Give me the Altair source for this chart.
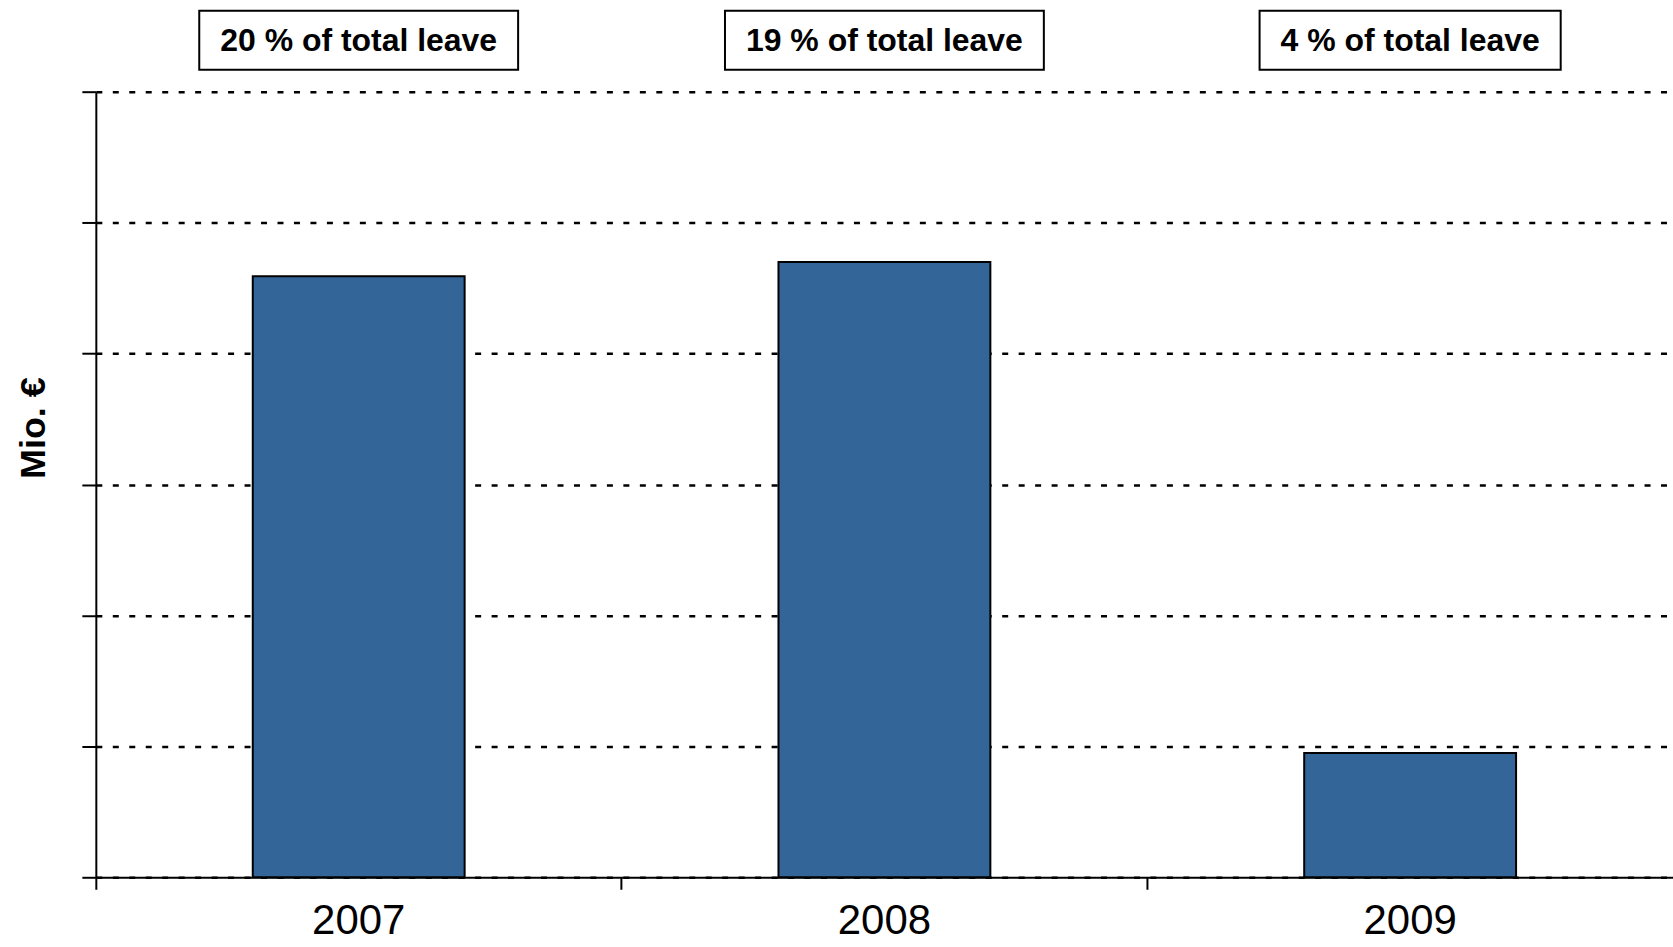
import altair as alt
import pandas as pd

years = ["2007", "2008", "2009"]
values = [4.59, 4.70, 0.95]          # Mio. € (axis carries no tick labels)
notes = ["20 % of total leave", "19 % of total leave", "4 % of total leave"]
grid_steps = [0, 1, 2, 3, 4, 5, 6]

# approximate advance widths of Liberation Sans Bold (em units) for box sizing
_adv = {"0": .556, "1": .556, "2": .556, "3": .556, "4": .556, "5": .556,
        "6": .556, "7": .556, "8": .556, "9": .556, " ": .278, "%": .889,
        "o": .611, "f": .333, "t": .333, "a": .556, "l": .278, "e": .556, "v": .556}
NOTE_FS = 32


def box_width(s):
    return sum(_adv.get(c, .556) for c in s) * NOTE_FS + 42


df = pd.DataFrame({"year": years, "value": values, "note": notes})
df["boxw"] = [box_width(s) for s in notes]

W, H = 1580, 787

x_enc = alt.X(
    "year:N",
    sort=years,
    scale=alt.Scale(paddingInner=0, paddingOuter=0),
    axis=alt.Axis(
        title=None,
        bandPosition=0,
        labelFontSize=42,
        labelFont="Liberation Sans",
        labelColor="black",
        labelBaseline="alphabetic",
        labelPadding=44,
        labelAngle=0,
        tickSize=12,
        tickColor="black",
        tickWidth=2,
        domainColor="black",
        domainWidth=2,
        grid=False,
    ),
)

bars = alt.Chart(df).mark_bar(
    width=alt.RelativeBandSize(0.403),
    color="#346599",
    stroke="black",
    strokeWidth=2,
).encode(
    x=x_enc,
    y=alt.Y(
        "value:Q",
        scale=alt.Scale(domain=[0, 6], nice=False, zero=True),
        axis=alt.Axis(
            values=grid_steps,
            labels=False,
            title="Mio. €",
            titleFont="Liberation Sans",
            titleFontSize=36,
            titleFontWeight="bold",
            titleColor="black",
            titleX=-51,
            titleY=H / 2 - 57,
            titleAlign="center",
            titleBaseline="alphabetic",
            titleAngle=270,
            tickSize=14,
            tickColor="black",
            tickWidth=2,
            domainColor="black",
            domainWidth=2,
            grid=True,
            gridColor="black",
            gridWidth=2.5,
            gridDash=[6, 10.5],
        ),
    ),
)

boxes = alt.Chart(df).mark_bar(
    fill="white", stroke="black", strokeWidth=2
).encode(
    x=x_enc,
    y=alt.value(-81),
    y2=alt.value(-22),
    size=alt.Size("boxw:Q", scale=None, legend=None),
)

texts = alt.Chart(df).mark_text(
    font="Liberation Sans",
    fontSize=NOTE_FS,
    fontWeight="bold",
    color="black",
    baseline="middle",
    align="center",
).encode(
    x=x_enc,
    y=alt.value(-51),
    text="note:N",
)

chart = alt.layer(bars, boxes, texts).properties(
    width=W,
    height=H,
    autosize=alt.AutoSizeParams(type="none"),
    padding={"left": 96, "top": 91, "right": 0, "bottom": 69},
    background="white",
).configure_view(stroke=None)

chart.save("out.html", embed_options={"renderer": "svg", "actions": False})
